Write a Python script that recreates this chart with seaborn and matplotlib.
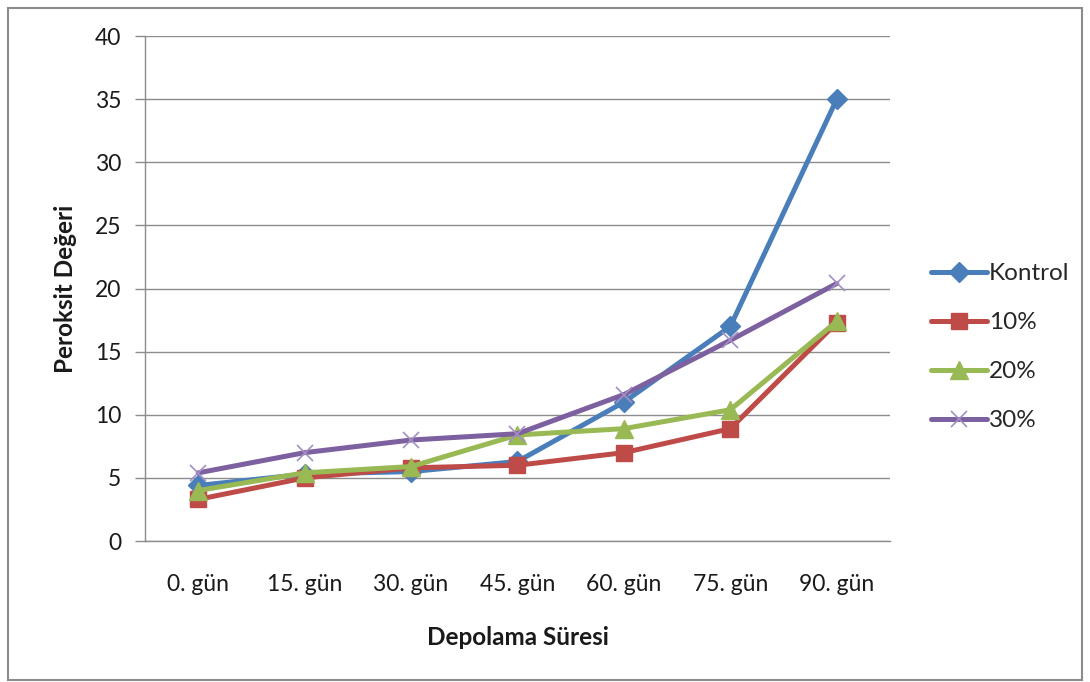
import matplotlib
matplotlib.use("Agg")
import matplotlib.pyplot as plt
from matplotlib.patches import Rectangle
from matplotlib.lines import Line2D
import seaborn as sns
import pandas as pd
import numpy as np

# Peroxide values over storage time
days = ["0. gün", "15. gün", "30. gün", "45. gün", "60. gün", "75. gün", "90. gün"]
kontrol = [4.4, 5.3, 5.5, 6.3, 11.0, 17.0, 35.0]
p10 = [3.3, 5.0, 5.8, 6.0, 7.0, 8.9, 17.3]
p20 = [4.0, 5.4, 5.9, 8.4, 8.9, 10.4, 17.4]
p30 = [5.4, 7.0, 8.0, 8.5, 11.6, 15.9, 20.4]
series_names = ["Kontrol", "10%", "20%", "30%"]

sns.set_theme(style="white")
plt.rcParams["font.family"] = ["Lato", "DejaVu Sans"]

fig = plt.figure(figsize=(10.9, 6.82), dpi=100)
ax = fig.add_axes([0.133, 0.2067, 0.6835, 0.7405])

styles = {
    "Kontrol": dict(color="#4A7EBB", marker="D", ms=10, mec="#4A7EBB", mew=1),
    "10%": dict(color="#BE4B48", marker="s", ms=12, mec="#BE4B48", mew=1),
    "20%": dict(color="#98B954", marker="^", ms=13, mec="#98B954", mew=1),
    "30%": dict(color="#7D60A0", marker="x", ms=12, mec="#A38FC4", mew=1.2),
}
LW = 3.6

df = pd.DataFrame({"gun": days * 4,
                   "deger": kontrol + p10 + p20 + p30,
                   "seri": np.repeat(series_names, len(days))})

for name in series_names:
    st = styles[name]
    sub = df[df["seri"] == name]
    sns.lineplot(data=sub, x="gun", y="deger", ax=ax, color=st["color"], lw=LW,
                 marker=st["marker"], markersize=st["ms"], markeredgecolor=st["mec"],
                 markeredgewidth=st["mew"], markerfacecolor=st["color"],
                 label=name, legend=False, sort=False)

ax.set_xlim(-0.5, 6.5)
ax.set_ylim(0, 40)
ax.set_yticks(range(0, 41, 5))
ax.yaxis.grid(True, color="#8C8C8C", lw=1)
ax.set_axisbelow(True)

for s in ["top", "right"]:
    ax.spines[s].set_visible(False)
for s in ["left", "bottom"]:
    ax.spines[s].set_color("#8C8C8C")
    ax.spines[s].set_linewidth(1)

ax.set_xticks(range(len(days)))
ax.set_xticklabels(days)
ax.set_xticks(np.arange(-0.5, 7, 1), minor=True)
ax.tick_params(axis="x", which="major", length=0, pad=24, labelsize=16.5, labelcolor="#1a1a1a")
ax.tick_params(axis="x", which="minor", length=7, direction="out", color="#8C8C8C", width=1)
ax.tick_params(axis="y", which="major", length=7, direction="out", color="#8C8C8C", width=1,
               labelsize=16.5, labelcolor="#1a1a1a", pad=10, left=True)

ax.set_xlabel("Depolama Süresi", fontsize=17.5, fontweight="bold", labelpad=22, color="#1a1a1a")
ax.set_ylabel("Peroksit Değeri", fontsize=17.5, fontweight="bold", labelpad=13, color="#1a1a1a")

handles = []
for name in series_names:
    st = styles[name]
    handles.append(Line2D([], [], color=st["color"], lw=LW, marker=st["marker"],
                          markersize=st["ms"], markeredgecolor=st["mec"],
                          markeredgewidth=st["mew"], markerfacecolor=st["color"]))
fig.legend(handles, series_names, loc="upper left", bbox_to_anchor=(0.845, 0.628),
           frameon=False, fontsize=17.5, handlelength=2.3, handletextpad=0.1,
           labelspacing=1.15, borderaxespad=0)

fig.add_artist(Rectangle((8 / 1090, 2 / 682), 1074 / 1090, 672 / 682,
                         transform=fig.transFigure, fill=False,
                         edgecolor="#8C8C8C", lw=1.5))

fig.savefig("out.png", dpi=100)
